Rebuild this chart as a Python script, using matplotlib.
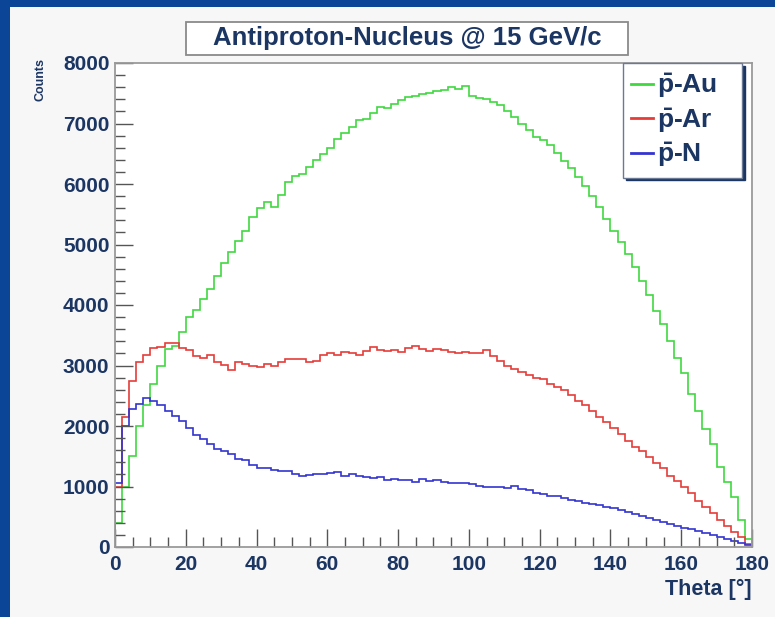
import numpy as np
import matplotlib
matplotlib.use("Agg")
import matplotlib.pyplot as plt
from matplotlib.patches import Rectangle
from matplotlib.ticker import MultipleLocator

plt.rcParams['font.family'] = ['Liberation Sans', 'DejaVu Sans']
plt.rcParams['font.weight'] = 'bold'
plt.rcParams['mathtext.fontset'] = 'custom'
plt.rcParams['mathtext.rm'] = 'Liberation Sans:bold'
plt.rcParams['mathtext.bf'] = 'Liberation Sans:bold'

# ---------------- data (2 degree bins) ----------------
theta_edges = np.arange(0, 182, 2)

counts_au = [400, 1000, 1500, 2000, 2350, 2700, 3000, 3280, 3320, 3550,
             3800, 3920, 4100, 4270, 4480, 4700, 4880, 5050, 5230, 5460,
             5600, 5700, 5620, 5820, 6040, 6130, 6170, 6280, 6400, 6500,
             6600, 6750, 6840, 6950, 7060, 7080, 7180, 7280, 7260, 7320,
             7390, 7430, 7460, 7490, 7510, 7540, 7560, 7600, 7570, 7620,
             7450, 7420, 7400, 7350, 7300, 7200, 7100, 7000, 6900, 6770,
             6720, 6640, 6520, 6380, 6260, 6120, 5960, 5800, 5620, 5420,
             5230, 5040, 4840, 4620, 4390, 4160, 3900, 3680, 3400, 3120,
             2880, 2530, 2250, 1950, 1700, 1330, 1080, 830, 440, 130]

counts_ar = [1000, 2150, 2750, 3050, 3180, 3290, 3310, 3380, 3370, 3290,
             3250, 3160, 3120, 3180, 3050, 3010, 2930, 3060, 3030, 3000,
             2980, 3030, 2990, 3050, 3100, 3110, 3100, 3050, 3080, 3170,
             3200, 3180, 3230, 3200, 3180, 3240, 3300, 3250, 3240, 3260,
             3230, 3290, 3330, 3280, 3240, 3280, 3250, 3220, 3200, 3230,
             3210, 3200, 3250, 3160, 3080, 3000, 2950, 2900, 2850, 2800,
             2780, 2700, 2640, 2600, 2520, 2420, 2340, 2240, 2150, 2070,
             1960, 1860, 1760, 1650, 1580, 1480, 1390, 1300, 1180, 1090,
             1000, 890, 760, 660, 560, 450, 340, 240, 160, 50]

counts_n = [1050, 2000, 2280, 2360, 2460, 2420, 2340, 2250, 2170, 2080,
            1960, 1850, 1780, 1700, 1620, 1590, 1540, 1460, 1440, 1350,
            1300, 1300, 1280, 1250, 1250, 1200, 1180, 1190, 1210, 1200,
            1230, 1240, 1170, 1200, 1170, 1150, 1140, 1160, 1110, 1130,
            1100, 1100, 1080, 1120, 1090, 1100, 1080, 1060, 1050, 1060,
            1040, 1010, 990, 990, 1000, 980, 1010, 960, 940, 900,
            880, 850, 840, 810, 780, 760, 730, 710, 690, 660,
            640, 610, 580, 550, 520, 480, 450, 410, 380, 350,
            320, 290, 260, 230, 200, 170, 130, 100, 70, 30]

series_labels = [r'$\bar{\mathbf{p}}$-Au', r'$\bar{\mathbf{p}}$-Ar', r'$\bar{\mathbf{p}}$-N']
series_colors = ['#3fd83f', '#e63c38', '#3434d0']

x_ticks = list(range(0, 181, 20))
y_ticks = list(range(0, 8001, 1000))

title_text = 'Antiproton-Nucleus @ 15 GeV/c'
x_label = 'Theta [°]'
y_label = 'Counts'

# ---------------- figure ----------------
W, H = 775, 617
navy = '#1c3664'
fig = plt.figure(figsize=(W / 100, H / 100), dpi=100)
fig.patch.set_facecolor('#f7f7f7')

# slide border
fig.add_artist(Rectangle((0, 0), 10 / W, 1, transform=fig.transFigure,
                         facecolor='#0b4597', edgecolor='none', zorder=0))
fig.add_artist(Rectangle((0, 1 - 7 / H), 1, 7 / H, transform=fig.transFigure,
                         facecolor='#0b4597', edgecolor='none', zorder=0))

ax = fig.add_axes([115 / W, 1 - 547 / H, (752 - 115) / W, (547 - 63) / H])
ax.set_facecolor('white')

handles = []
for vals, col, lab in zip([counts_au, counts_ar, counts_n], series_colors, series_labels):
    ax.stairs(vals, theta_edges, color=col, linewidth=1.2, label=lab)
    handles.append(plt.Line2D([], [], color=col, linewidth=2.0, label=lab))

ax.set_xlim(0, 180)
ax.set_ylim(0, 8000)
ax.set_xticks(x_ticks)
ax.set_yticks(y_ticks)
ax.xaxis.set_minor_locator(MultipleLocator(5))
ax.yaxis.set_minor_locator(MultipleLocator(200))
ax.tick_params(which='major', direction='in', length=13, width=1.0, color='#555555',
               labelsize=15, labelcolor=navy)
ax.tick_params(which='minor', direction='in', length=7, width=1.0, color='#555555')
ax.tick_params(axis='x', which='major', pad=6)
ax.tick_params(axis='y', which='major', pad=4)
for lab in ax.get_xticklabels() + ax.get_yticklabels():
    lab.set_fontweight('bold')
for sp in ax.spines.values():
    sp.set_color('#9a9a9a')
    sp.set_linewidth(1.3)

ax.set_xlabel(x_label, fontsize=15.5, fontweight='bold', color=navy, loc='right')
ax.xaxis.set_label_coords(1.0, -0.065)
ax.xaxis.label.set_va('top')
ax.set_ylabel(y_label, fontsize=9, fontweight='bold', color=navy, loc='top')
ax.yaxis.set_label_coords(-0.108, 1.01)

leg = ax.legend(handles=handles, loc='upper left', bbox_to_anchor=(0.7975, 1.0, 0.187, 0.0),
                mode='expand', borderaxespad=0, fontsize=19, labelcolor=navy,
                handlelength=0.8, handletextpad=0.15, labelspacing=0.22,
                borderpad=0.32, fancybox=False, framealpha=1,
                shadow={'color': navy, 'alpha': 1})
leg.get_frame().set_edgecolor('#6a7a96')
leg.get_frame().set_linewidth(1.0)

# title box
fig.add_artist(Rectangle((186 / W, 1 - 55 / H), (628 - 186) / W, 33 / H,
                         transform=fig.transFigure, facecolor='white',
                         edgecolor='#8a8a8a', linewidth=1.3, zorder=2))
fig.text(407 / W, 1 - 38.5 / H, title_text, ha='center', va='center',
         fontsize=18.5, fontweight='bold', color=navy, zorder=3)

fig.savefig('out.png', dpi=100, facecolor=fig.get_facecolor())
